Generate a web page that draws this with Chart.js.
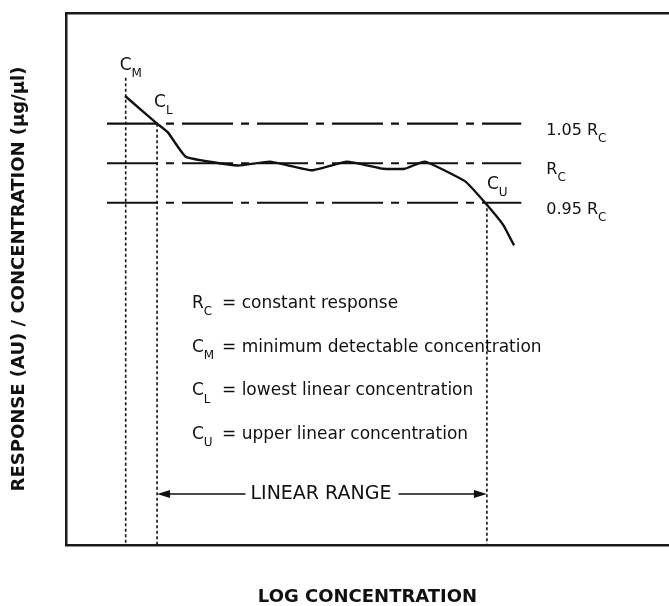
<!DOCTYPE html>
<html>
<head>
<meta charset="utf-8">
<title>Linear range</title>
<script src="https://cdn.jsdelivr.net/npm/chart.js"></script>
<style>
  html, body { margin: 0; padding: 0; background: #fff; }
  canvas { display: block; }
</style>
</head>
<body>
<canvas id="grafica" width="669" height="606"></canvas>
<script>
// curva respuesta / concentracion (x = log conc., y = respuesta relativa a Rc)
const curveX = [9.8, 15.1, 16.9, 19.9, 28.5, 33.8, 40.8, 46.6, 52.6, 56.2, 59.5, 66.2, 69.5, 72.5, 74.3];
const curveY = [1.085, 1.05, 1.039, 1.008, 0.997, 1.002, 0.991, 1.002, 0.993, 0.993, 1.002, 0.977, 0.95, 0.922, 0.896];

// lineas de referencia 1.05 Rc, Rc, 0.95 Rc
const bandLevels = [1.05, 1.0, 0.95];
const bandLabels = [["1.05 R", "C"], ["R", "C"], ["0.95 R", "C"]];
const bandRange = [6.8, 75.5];

// C_M, C_L, C_U
const markerX = [9.9, 15.1, 69.8];
const markerTop = [1.108, 1.05, 0.95];
const markerSubs = ["M", "L", "U"];

const legendSymbols = [["R", "C"], ["C", "M"], ["C", "L"], ["C", "U"]];
const legendText = ["constant response", "minimum detectable concentration", "lowest linear concentration", "upper linear concentration"];

const rangeLabel = "LINEAR RANGE";
const xTitle = "LOG CONCENTRATION";
const yTitle = "RESPONSE (AU) / CONCENTRATION (\u00b5g/\u00b5l)";

const yMin = 0.517, yMax = 1.19;
const ink = "#111";
const FONT = "'DejaVu Sans', Verdana, sans-serif";

const datasets = [];

datasets.push({
  data: curveX.map((x, i) => ({ x, y: curveY[i] })),
  borderColor: ink, borderWidth: 2.4, tension: 0.12,
  pointRadius: 0
});

bandLevels.forEach(lvl => {
  datasets.push({
    data: [{ x: bandRange[0], y: lvl }, { x: bandRange[1], y: lvl }],
    borderColor: ink, borderWidth: 2.1, borderDash: [51, 8, 8, 8],
    pointRadius: 0
  });
});

markerX.forEach((mx, i) => {
  datasets.push({
    data: [{ x: mx, y: markerTop[i] }, { x: mx, y: yMin }],
    borderColor: ink, borderWidth: 1.6, borderDash: [3, 2.5],
    pointRadius: 0
  });
});

// texto con subindice
function subText(ctx, main, sub, x, y, size, subSize) {
  ctx.font = size + "px " + FONT;
  ctx.textAlign = "left";
  ctx.textBaseline = "middle";
  ctx.fillText(main, x, y);
  const w = ctx.measureText(main).width;
  ctx.font = subSize + "px " + FONT;
  ctx.fillText(sub, x + w, y + size * 0.5);
  return x + w + ctx.measureText(sub).width;
}

const anotaciones = {
  id: "anotaciones",
  afterDatasetsDraw(chart) {
    const { ctx, chartArea, scales } = chart;
    const xs = scales.x, ys = scales.y;
    ctx.save();
    ctx.fillStyle = ink;
    ctx.strokeStyle = ink;

    // etiquetas de las lineas de referencia
    bandLevels.forEach((lvl, i) => {
      const px = xs.getPixelForValue(bandRange[1]) + 25;
      const py = ys.getPixelForValue(lvl) + 7;
      subText(ctx, bandLabels[i][0], bandLabels[i][1], px, py, 16, 12);
    });

    // C_M, C_L, C_U
    const dx = [-6, -3, 0], dy = [-12, -21, -18];
    markerX.forEach((mx, i) => {
      const px = xs.getPixelForValue(mx) + dx[i];
      const py = ys.getPixelForValue(markerTop[i]) + dy[i];
      subText(ctx, "C", markerSubs[i], px, py, 17, 12);
    });

    // leyenda
    legendSymbols.forEach((s, i) => {
      const py = chartArea.top + 290.5 + i * 43.7;
      subText(ctx, s[0], s[1], chartArea.left + 126, py, 17, 12);
      ctx.font = "17px " + FONT;
      ctx.fillText("= " + legendText[i], chartArea.left + 156, py);
    });

    // rango lineal con flechas
    const x1 = xs.getPixelForValue(markerX[1]);
    const x2 = xs.getPixelForValue(markerX[2]);
    const ay = chartArea.bottom - 51;
    const mid = (x1 + x2) / 2;
    ctx.font = "19px " + FONT;
    ctx.textAlign = "center";
    ctx.textBaseline = "middle";
    ctx.fillText(rangeLabel, mid - 1, ay);
    const half = ctx.measureText(rangeLabel).width / 2 + 6;
    ctx.lineWidth = 1.6;
    ctx.beginPath();
    ctx.moveTo(x1 + 10, ay); ctx.lineTo(mid - half, ay);
    ctx.moveTo(mid + half, ay); ctx.lineTo(x2 - 10, ay);
    ctx.stroke();
    [[x1, 1], [x2, -1]].forEach(([tx, d]) => {
      ctx.beginPath();
      ctx.moveTo(tx, ay);
      ctx.lineTo(tx + d * 13, ay - 4);
      ctx.lineTo(tx + d * 13, ay + 4);
      ctx.closePath();
      ctx.fill();
    });
    ctx.restore();
  }
};

const frame = { display: true, color: "#1a1a1a", width: 2.5 };

new Chart(document.getElementById("grafica"), {
  type: "line",
  data: { datasets },
  options: {
    responsive: false,
    animation: false,
    layout: { padding: { top: 13, right: 0, bottom: 0, left: 0 } },
    plugins: { legend: { display: false }, tooltip: { enabled: false } },
    scales: {
      x: {
        type: "linear", min: 0, max: 100,
        grid: { display: false }, ticks: { display: false },
        border: frame,
        title: { display: true, text: xTitle, color: ink, padding: { top: -2, bottom: -2 },
                 font: { family: FONT, size: 18, weight: "bold" } },
        afterFit(scale) { scale.height = 61; }
      },
      xTop: {
        type: "linear", position: "top", min: 0, max: 100,
        grid: { display: false }, ticks: { display: false },
        border: frame,
        afterFit(scale) { scale.height = 0; }
      },
      y: {
        type: "linear", min: yMin, max: yMax,
        grid: { display: false }, ticks: { display: false },
        border: frame,
        title: { display: true, text: yTitle, color: ink, padding: { top: 9, bottom: 0 },
                 font: { family: FONT, size: 18, weight: "bold" } },
        afterFit(scale) { scale.width = 66; }
      }
    }
  },
  plugins: [anotaciones]
});
</script>
</body>
</html>
